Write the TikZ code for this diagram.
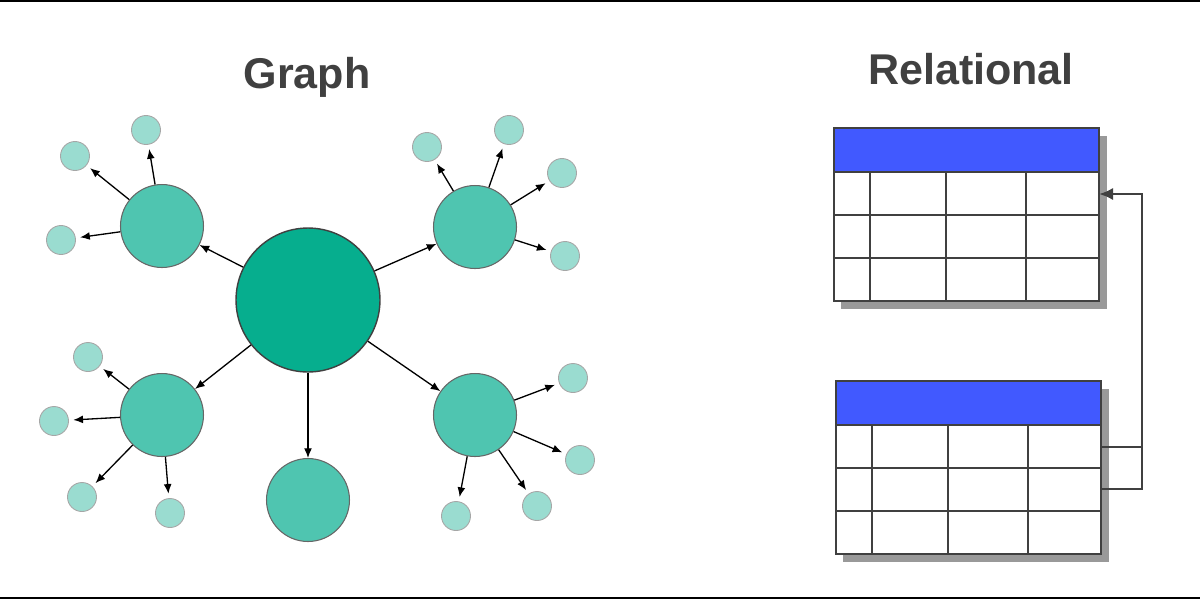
\documentclass[tikz,border=0pt]{standalone}
\usepackage{fontspec}
\setmainfont{Liberation Sans}
\usetikzlibrary{positioning, arrows.meta}
\definecolor{Ink}{HTML}{404040}
\definecolor{Hub}{HTML}{06AE8E}
\definecolor{Mid}{HTML}{4FC5B0}
\definecolor{Leaf}{HTML}{9ADCD0}
\definecolor{Header}{HTML}{4159FF}
\definecolor{Shade}{HTML}{999999}
\tikzset{
    hub/.style={circle, draw=Ink, fill=Hub, line width=0.8pt, minimum size=2.88cm, inner sep=0pt},
    midnode/.style={circle, draw=Ink!80, fill=Mid, line width=0.6pt, minimum size=1.66cm, inner sep=0pt},
    leaf/.style={circle, draw=gray!70, fill=Leaf, line width=0.5pt, minimum size=0.58cm, inner sep=0pt},
    spoke/.style={-{Latex[length=5.5pt,width=4.5pt]}, line width=0.75pt, color=black},
    leafspoke/.style={spoke, shorten >=2.5pt},
    heading/.style={font=\bfseries\fontsize{24.5}{28}\selectfont, text=Ink, anchor=base},
    cellline/.style={line width=0.8pt, draw=Ink},
    link/.style={line width=1.4pt, draw=Ink},
}

\begin{document}
\begin{tikzpicture}[x=0.02cm, y=-0.02cm]
    \useasboundingbox (0,0) rectangle (1200,600);
    % frame lines
    \draw[line width=1.2pt, black] (0,1) -- (1200,1);
    \draw[line width=1.2pt, black] (0,598) -- (1200,598);

    % Graph
    \node[heading] (graphtitle) at (307,88) {Graph};
    \node[hub] (hub) at (308,300) {};
    \node[midnode] (ul) at (162,226) {};
    \node[midnode] (ur) at (475,227) {};
    \node[midnode] (ll) at (162,415) {};
    \node[midnode] (lr) at (475,415) {};
    \node[midnode] (bot) at (308,500) {};
    \foreach \m in {ul, ur, ll, lr, bot}
        \draw[spoke] (hub) -- (\m);

    % leaves
    \node[leaf] (ul1) at (75,156) {};
    \node[leaf] (ul2) at (146,130) {};
    \node[leaf] (ul3) at (61,240) {};
    \node[leaf] (ur1) at (427,147) {};
    \node[leaf] (ur2) at (509,130) {};
    \node[leaf] (ur3) at (562,173) {};
    \node[leaf] (ur4) at (565,256) {};
    \node[leaf] (ll1) at (88,357) {};
    \node[leaf] (ll2) at (54,421) {};
    \node[leaf] (ll3) at (82,497) {};
    \node[leaf] (ll4) at (170,513) {};
    \node[leaf] (lr1) at (573,378) {};
    \node[leaf] (lr2) at (580,460) {};
    \node[leaf] (lr3) at (537,506) {};
    \node[leaf] (lr4) at (456,516) {};
    \foreach \m/\n in {ul/3, ur/4, ll/4, lr/4}
        \foreach \k in {1,...,\n}
            \draw[leafspoke] (\m) -- (\m\k);

    % Relational
    \node[heading] (reltitle) at (971,84) {Relational};
    \foreach \tab/\dx/\dy in {ta/0/0, tb/2/253} {
        \begin{scope}[shift={(\dx,\dy)}]
            \fill[Shade] (841,136) rectangle (1107,309);
            \fill[Header] (834,128) rectangle (1099,172);
            \fill[white] (834,172) rectangle (1099,301);
            \foreach \y in {172,215,258}
                \draw[cellline] (834,\y) -- (1099,\y);
            \foreach \x in {870,946,1026}
                \draw[cellline] (\x,172) -- (\x,301);
            \draw[cellline] (834,128) rectangle (1099,301);
            \coordinate (\tab-r1) at (1099,194);
            \coordinate (\tab-r2) at (1099,236);
        \end{scope}
    }
    \coordinate (turn) at (1142,194);
    \draw[link, -{Latex[length=8pt,width=7pt]}] (tb-r1) -| (turn) -- (ta-r1);
    \draw[link] (tb-r2) -| (turn);
\end{tikzpicture}
\end{document}
